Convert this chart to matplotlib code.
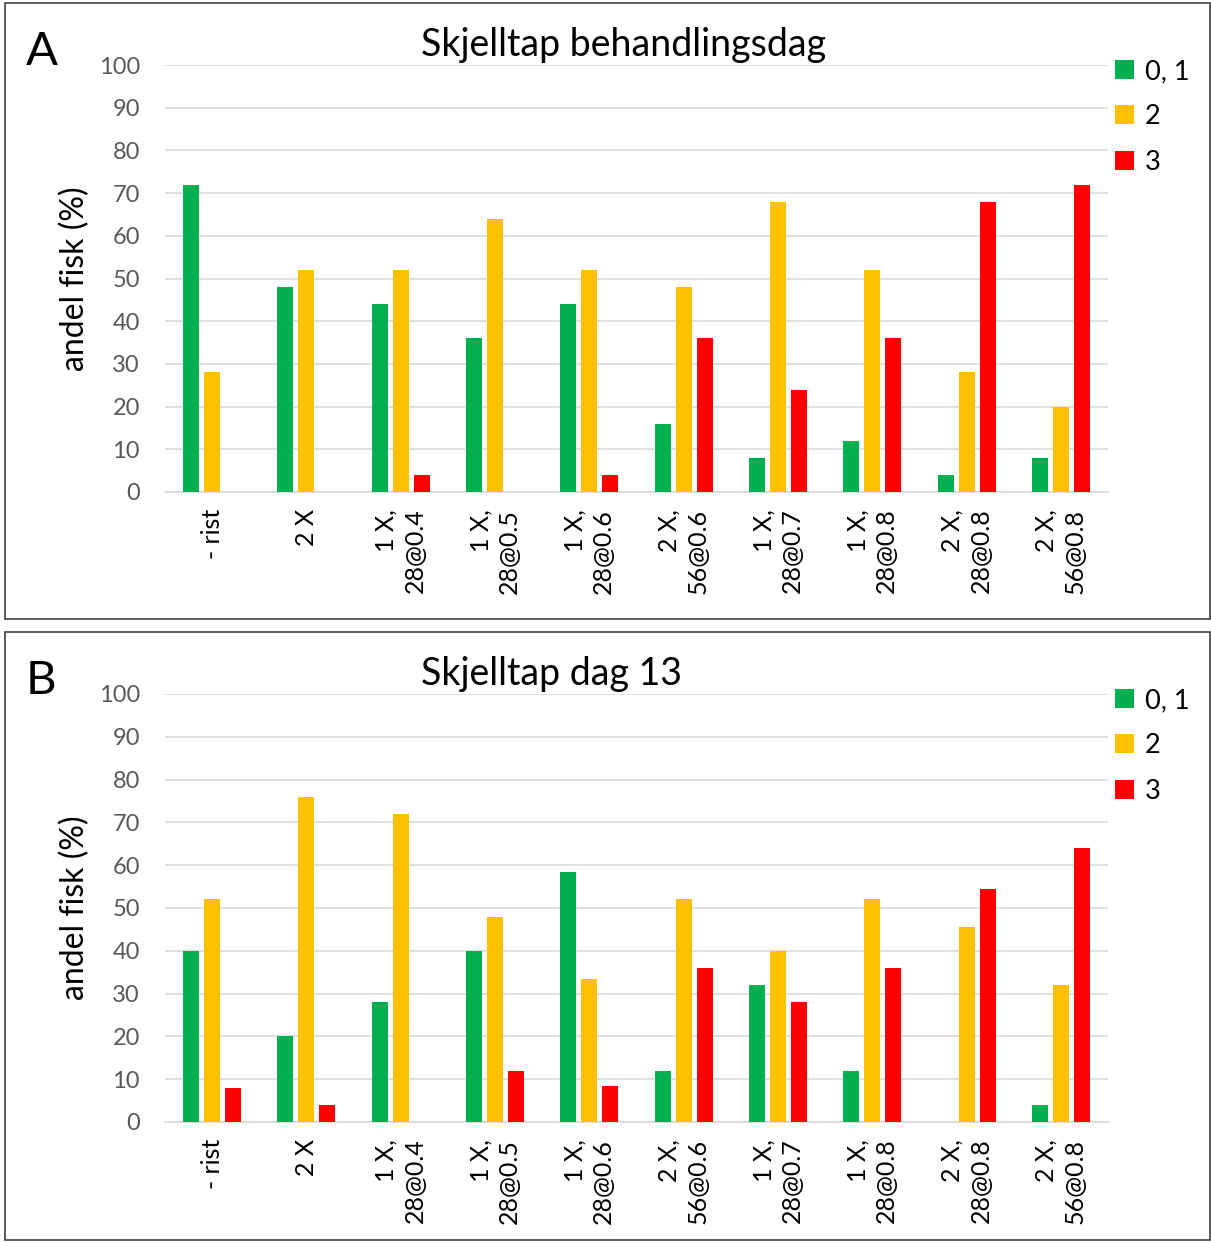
import matplotlib.pyplot as plt
from matplotlib.patches import Rectangle
import numpy as np

plt.rcParams['font.family'] = ['Lato', 'DejaVu Sans']

# behandlingsgrupper
groups = ['- rist', '2 X', '1 X,\n28@0.4', '1 X,\n28@0.5', '1 X,\n28@0.6',
          '2 X,\n56@0.6', '1 X,\n28@0.7', '1 X,\n28@0.8', '2 X,\n28@0.8', '2 X,\n56@0.8']
series_names = ['0, 1', '2', '3']

# andel fisk (%) per skjelltap-kategori, behandlingsdag
dag0_01 = [72, 48, 44, 36, 44, 16, 8, 12, 4, 8]
dag0_2 = [28, 52, 52, 64, 52, 48, 68, 52, 28, 20]
dag0_3 = [0, 0, 4, 0, 4, 36, 24, 36, 68, 72]

# andel fisk (%) dag 13
dag13_01 = [40, 20, 28, 40, 58.3, 12, 32, 12, 0, 4]
dag13_2 = [52, 76, 72, 48, 33.3, 52, 40, 52, 45.5, 32]
dag13_3 = [8, 4, 0, 12, 8.3, 36, 28, 36, 54.5, 64]

colors = ['#00b050', '#ffc000', '#ff0000']

W, H = 1211, 1242
fig = plt.figure(figsize=(W / 100, H / 100), dpi=100)


def panel(top_px, bottom_px, data, title, letter, box):
    ax = fig.add_axes([165 / W, 1 - bottom_px / H, 943 / W, (bottom_px - top_px) / H])
    x = np.arange(len(groups))
    width = 0.17
    step = 0.223
    for i, (vals, c, name) in enumerate(zip(data, colors, series_names)):
        ax.bar(x + (i - 1) * step, vals, width, color=c, label=name, zorder=3)
    ax.set_xlim(-0.5, len(groups) - 0.5)
    ax.set_ylim(0, 100)
    ax.set_yticks(range(0, 101, 10))
    ax.grid(axis='y', color='#d9d9d9', linewidth=1.2, zorder=0)
    for s in ['top', 'left', 'right']:
        ax.spines[s].set_visible(False)
    ax.spines['bottom'].set_color('#d9d9d9')
    ax.spines['bottom'].set_linewidth(1.2)
    ax.tick_params(axis='y', length=0, pad=18, labelsize=17, labelcolor='#595959')
    ax.tick_params(axis='x', length=0, pad=12)
    ax.set_xticks(x)
    ax.set_xticklabels(groups, rotation=90, fontsize=18, va='top', ha='center',
                       multialignment='right', linespacing=1.3)
    ax.set_ylabel('andel fisk (%)', fontsize=23)
    ax.yaxis.set_label_coords((90 - 165) / 943, 0.5)
    ax.legend(loc='upper left', bbox_to_anchor=(1096 / W, 1 - (top_px - 25) / H),
              bbox_transform=fig.transFigure, frameon=False, fontsize=19.5,
              borderpad=0.2, handlelength=0.7, handleheight=0.7, handletextpad=0.4,
              labelspacing=0.75)
    fig.text(421 / W, 1 - (top_px - 20) / H, title, fontsize=27, ha='left', va='center')
    fig.text(26 / W, 1 - (top_px - 13) / H, letter, fontsize=34, ha='left', va='center')
    x0, y0, x1, y1 = box
    fig.patches.append(Rectangle((x0 / W, 1 - y1 / H), (x1 - x0) / W, (y1 - y0) / H,
                                 transform=fig.transFigure, fill=False,
                                 edgecolor='#404040', linewidth=1.2))
    return ax


panel(65, 492, [dag0_01, dag0_2, dag0_3], 'Skjelltap behandlingsdag', 'A', (5, 3, 1210, 619))
panel(694, 1122, [dag13_01, dag13_2, dag13_3], 'Skjelltap dag 13', 'B', (5, 632, 1210, 1240))

fig.savefig('out.png', dpi=100)
